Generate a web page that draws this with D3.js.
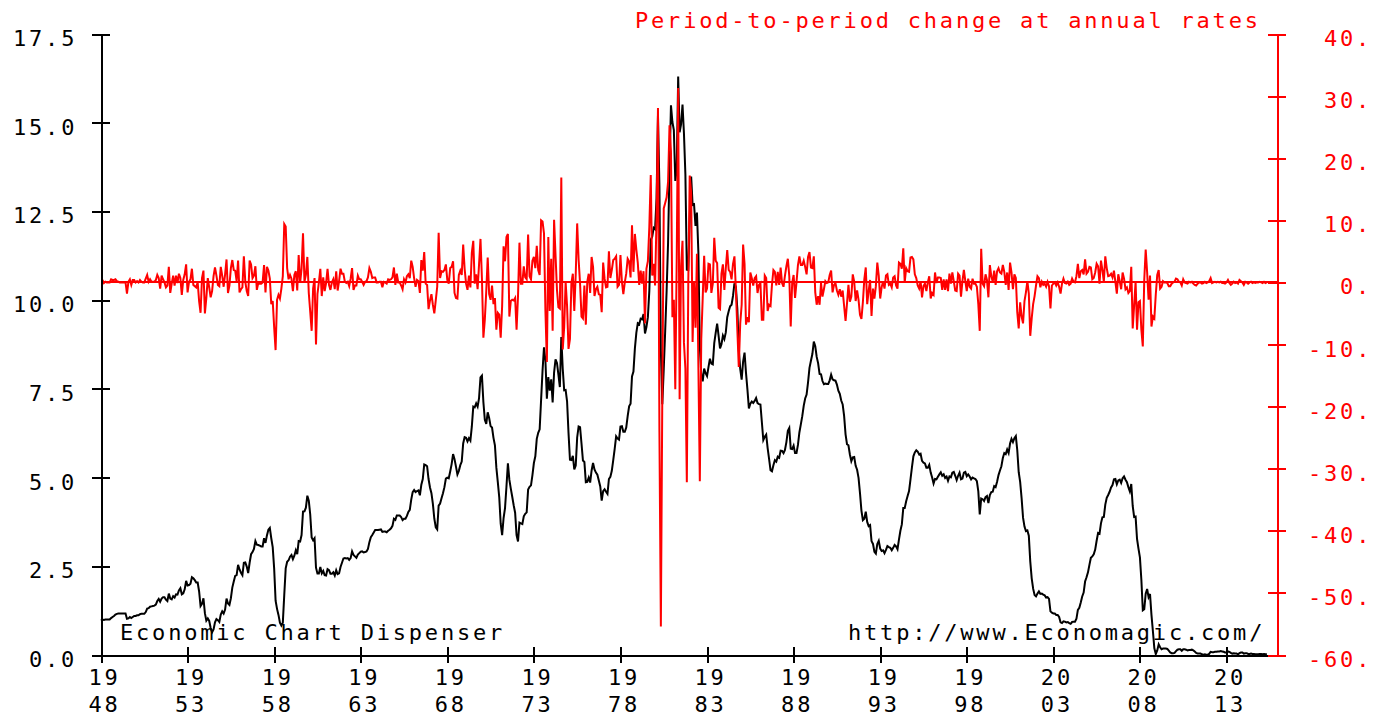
<!DOCTYPE html>
<html>
<head>
<meta charset="utf-8">
<script src="https://cdn.jsdelivr.net/npm/d3@7"></script>
<style>
  body { margin: 0; background: #fff; }
  svg text { font-family: 'DejaVu Sans Mono', monospace; font-size: 22px; letter-spacing: 2.8px; }
</style>
</head>
<body>
<script>
(function (d3) {
  'use strict';

  // monthly rate, Jan 1948 .. May 2015 (left axis, percent)
  const startYear = 1948;
  const rate = [
    0.97, 1.00, 0.99, 1.00, 1.00, 1.00, 1.00, 1.04, 1.07, 1.10, 1.14, 1.16,
    1.17, 1.17, 1.17, 1.17, 1.17, 1.17, 1.02, 1.03, 1.07, 1.04, 1.07, 1.10,
    1.10, 1.12, 1.12, 1.15, 1.16, 1.16, 1.16, 1.21, 1.31, 1.32, 1.36, 1.37,
    1.38, 1.39, 1.42, 1.52, 1.58, 1.50, 1.59, 1.63, 1.63, 1.56, 1.52, 1.73,
    1.59, 1.57, 1.66, 1.62, 1.71, 1.70, 1.82, 1.88, 1.71, 1.74, 1.85, 2.09,
    1.96, 1.97, 2.01, 2.19, 2.16, 2.11, 2.04, 2.04, 1.79, 1.38, 1.44, 1.60,
    1.18, 0.97, 1.03, 0.96, 0.76, 0.64, 0.72, 0.92, 1.01, 0.98, 0.93, 1.14,
    1.23, 1.17, 1.28, 1.59, 1.45, 1.41, 1.60, 1.90, 2.07, 2.23, 2.25, 2.54,
    2.41, 2.32, 2.25, 2.60, 2.61, 2.49, 2.31, 2.60, 2.84, 2.90, 2.99, 3.21,
    3.11, 3.10, 3.08, 3.06, 3.06, 3.29, 3.16, 3.37, 3.53, 3.58, 3.29, 3.04,
    2.44, 1.53, 1.30, 1.13, 0.91, 0.83, 0.91, 1.69, 2.44, 2.63, 2.67, 2.77,
    2.82, 2.70, 2.80, 2.95, 2.84, 3.21, 3.20, 3.38, 4.04, 4.05, 4.15, 4.49,
    4.35, 3.96, 3.31, 3.23, 3.29, 2.46, 2.30, 2.30, 2.48, 2.30, 2.37, 2.25,
    2.24, 2.42, 2.39, 2.29, 2.29, 2.33, 2.24, 2.39, 2.28, 2.30, 2.48, 2.60,
    2.72, 2.73, 2.72, 2.73, 2.68, 2.73, 2.92, 2.82, 2.78, 2.74, 2.83, 2.87,
    2.91, 2.92, 2.89, 2.90, 2.92, 2.99, 3.18, 3.32, 3.38, 3.45, 3.52, 3.52,
    3.52, 3.53, 3.54, 3.47, 3.48, 3.48, 3.46, 3.50, 3.53, 3.57, 3.64, 3.84,
    3.81, 3.93, 3.93, 3.93, 3.89, 3.80, 3.84, 3.84, 3.92, 4.03, 4.09, 4.38,
    4.59, 4.65, 4.59, 4.62, 4.64, 4.50, 4.80, 4.96, 5.37, 5.35, 5.32, 4.96,
    4.72, 4.56, 4.26, 3.84, 3.60, 3.54, 4.21, 4.27, 4.42, 4.56, 4.73, 4.97,
    5.00, 4.98, 5.17, 5.38, 5.66, 5.52, 5.31, 5.09, 5.19, 5.35, 5.45, 5.96,
    6.14, 6.12, 6.02, 6.11, 6.04, 6.44, 7.00, 6.98, 7.09, 7.00, 7.24, 7.82,
    7.87, 7.13, 6.63, 6.51, 6.84, 6.68, 6.45, 6.41, 6.12, 5.91, 5.28, 4.87,
    4.44, 3.70, 3.38, 3.86, 4.14, 4.75, 5.40, 4.94, 4.69, 4.46, 4.22, 4.01,
    3.38, 3.20, 3.73, 3.71, 3.69, 3.91, 3.98, 4.02, 4.66, 4.74, 4.78, 5.07,
    5.41, 5.60, 6.09, 6.26, 6.36, 7.19, 8.01, 8.67, 8.29, 7.22, 7.83, 7.45,
    7.77, 7.12, 7.96, 8.33, 8.23, 7.90, 7.55, 8.96, 8.06, 7.46, 7.47, 7.15,
    6.26, 5.50, 5.49, 5.61, 5.23, 5.34, 6.13, 6.44, 6.42, 5.96, 5.48, 5.44,
    4.87, 4.88, 5.00, 4.86, 5.20, 5.41, 5.23, 5.14, 5.08, 4.92, 4.75, 4.35,
    4.62, 4.67, 4.60, 4.54, 4.96, 5.02, 5.19, 5.49, 5.81, 6.16, 6.10, 6.07,
    6.44, 6.45, 6.29, 6.29, 6.41, 6.73, 7.01, 7.08, 7.85, 7.99, 8.64, 9.08,
    9.35, 9.32, 9.48, 9.46, 9.61, 9.06, 9.24, 9.52, 10.26, 11.70, 11.79, 12.04,
    12.00, 12.86, 15.20, 13.20, 8.58, 7.07, 8.06, 9.13, 10.27, 11.62, 13.73, 15.49,
    15.02, 14.79, 13.36, 13.69, 16.30, 14.73, 14.95, 15.51, 14.70, 13.54, 10.86, 10.85,
    12.28, 13.48, 12.68, 12.70, 12.09, 12.47, 11.35, 8.68, 7.92, 7.71, 8.07, 7.94,
    7.86, 8.11, 8.35, 8.21, 8.19, 8.79, 9.08, 9.34, 9.00, 8.64, 8.76, 9.00,
    8.90, 9.09, 9.52, 9.69, 9.83, 9.87, 10.12, 10.47, 10.37, 9.74, 8.61, 8.06,
    7.76, 8.27, 8.52, 7.95, 7.48, 6.95, 7.08, 7.14, 7.10, 7.16, 7.24, 7.10,
    7.07, 7.06, 6.56, 6.06, 6.15, 6.21, 5.83, 5.53, 5.21, 5.18, 5.35, 5.49,
    5.45, 5.59, 5.56, 5.76, 5.75, 5.69, 5.78, 6.00, 6.32, 6.40, 5.81, 5.80,
    5.90, 5.69, 5.69, 5.92, 6.27, 6.50, 6.73, 7.02, 7.23, 7.34, 7.68, 8.09,
    8.29, 8.48, 8.83, 8.70, 8.40, 8.22, 7.92, 7.91, 7.72, 7.63, 7.65, 7.64,
    7.64, 7.74, 7.90, 7.77, 7.74, 7.73, 7.62, 7.45, 7.36, 7.17, 7.06, 6.74,
    6.22, 5.94, 5.91, 5.65, 5.46, 5.57, 5.58, 5.33, 5.22, 4.99, 4.56, 4.07,
    3.80, 3.84, 4.04, 3.75, 3.63, 3.66, 3.21, 3.13, 2.91, 2.86, 3.13, 3.22,
    3.00, 2.93, 2.95, 2.87, 2.96, 3.07, 3.04, 3.02, 2.95, 3.02, 3.10, 3.06,
    2.98, 3.25, 3.50, 3.68, 4.14, 4.14, 4.33, 4.48, 4.62, 4.95, 5.29, 5.60,
    5.71, 5.77, 5.73, 5.65, 5.67, 5.47, 5.42, 5.40, 5.28, 5.28, 5.36, 5.14,
    5.00, 4.83, 4.96, 4.95, 5.02, 5.09, 5.15, 5.05, 5.09, 4.99, 5.03, 4.91,
    5.03, 5.01, 5.14, 5.16, 5.05, 4.93, 5.05, 5.14, 4.95, 4.97, 5.14, 5.16,
    5.04, 5.09, 5.03, 4.95, 5.00, 4.98, 4.96, 4.90, 4.61, 3.96, 4.41, 4.39,
    4.34, 4.45, 4.48, 4.28, 4.51, 4.59, 4.60, 4.76, 4.73, 4.88, 5.07, 5.20,
    5.32, 5.55, 5.69, 5.66, 5.79, 5.69, 5.96, 6.09, 6.00, 6.11, 6.17, 5.77,
    5.15, 4.88, 4.42, 3.87, 3.62, 3.49, 3.51, 3.36, 2.64, 2.16, 1.87, 1.69,
    1.65, 1.73, 1.79, 1.72, 1.73, 1.70, 1.68, 1.62, 1.63, 1.58, 1.23, 1.19,
    1.17, 1.17, 1.13, 1.13, 1.07, 0.92, 0.90, 0.95, 0.94, 0.92, 0.93, 0.90,
    0.88, 0.93, 0.94, 0.94, 1.02, 1.27, 1.33, 1.48, 1.65, 1.76, 2.07, 2.19,
    2.33, 2.54, 2.74, 2.78, 2.84, 2.97, 3.22, 3.44, 3.42, 3.71, 3.88, 3.89,
    4.24, 4.43, 4.51, 4.60, 4.72, 4.79, 4.95, 4.96, 4.81, 4.92, 4.94, 4.85,
    4.98, 5.03, 4.94, 4.87, 4.73, 4.61, 4.82, 4.20, 3.89, 3.90, 3.27, 3.00,
    2.75, 2.12, 1.26, 1.29, 1.73, 1.86, 1.63, 1.72, 1.13, 0.67, 0.19, 0.03,
    0.13, 0.30, 0.22, 0.16, 0.18, 0.18, 0.18, 0.17, 0.12, 0.07, 0.05, 0.05,
    0.06, 0.11, 0.15, 0.16, 0.16, 0.12, 0.16, 0.16, 0.15, 0.13, 0.14, 0.14,
    0.15, 0.13, 0.10, 0.06, 0.04, 0.04, 0.04, 0.02, 0.01, 0.02, 0.01, 0.01,
    0.03, 0.09, 0.08, 0.08, 0.09, 0.09, 0.10, 0.10, 0.11, 0.10, 0.09, 0.07,
    0.07, 0.10, 0.09, 0.06, 0.04, 0.05, 0.04, 0.04, 0.02, 0.05, 0.07, 0.07,
    0.04, 0.05, 0.05, 0.03, 0.03, 0.04, 0.03, 0.03, 0.02, 0.02, 0.02, 0.03,
    0.03, 0.02, 0.03, 0.02, 0.02
  ];

  // period-to-period change at annual rates, Feb 1948 .. May 2015 (right axis)
  const change = [
    0.4, -0.1, 0.1, 0, 0, 0, 0.5, 0.4, 0.4, 0.5, 0.2,
    0.1, 0, 0, 0, 0, 0, -1.8, 0.1, 0.5, -0.4, 0.4, 0.4,
    0, 0.2, 0, 0.4, 0.1, 0, 0, 0.6, 1.2, 0.1, 0.5, 0.1,
    0.1, 0.1, 0.4, 1.2, 0.7, -1.0, 1.1, 0.5, 0, -0.8, -0.5, 2.5,
    -1.7, -0.2, 1.1, -0.5, 1.1, -0.1, 1.4, 0.7, -2.0, 0.4, 1.3, 2.9,
    -1.6, 0.1, 0.5, 2.2, -0.4, -0.6, -0.8, 0, -3.0, -4.9, 0.7, 1.9,
    -5.0, -2.5, 0.7, -0.8, -2.4, -1.4, 1.0, 2.4, 1.1, -0.4, -0.6, 2.5,
    1.1, -0.7, 1.3, 3.7, -1.7, -0.5, 2.3, 3.6, 2.0, 1.9, 0.2, 3.5,
    -1.6, -1.1, -0.8, 4.2, 0.1, -1.4, -2.2, 3.5, 2.9, 0.7, 1.1, 2.6,
    -1.2, -0.1, -0.2, -0.2, 0, 2.8, -1.6, 2.5, 1.9, 0.6, -3.5, -3.0,
    -7.2, -10.9, -2.8, -2.0, -2.6, -1.0, 1.0, 9.4, 9.0, 2.3, 0.5, 1.2,
    0.6, -1.4, 1.2, 1.8, -1.3, 4.4, -0.1, 2.2, 7.9, 0.1, 1.2, 4.1,
    -1.7, -4.7, -7.8, -1.0, 0.7, -10.0, -1.9, 0, 2.2, -2.2, 0.8, -1.4,
    -0.1, 2.2, -0.4, -1.2, 0, 0.5, -1.1, 1.8, -1.3, 0.2, 2.2, 1.4,
    1.4, 0.1, -0.1, 0.1, -0.6, 0.6, 2.3, -1.2, -0.5, -0.5, 1.1, 0.5,
    0.5, 0.1, -0.4, 0.1, 0.2, 0.8, 2.3, 1.7, 0.7, 0.8, 0.8, 0,
    0, 0.1, 0.1, -0.8, 0.1, 0, -0.2, 0.5, 0.4, 0.5, 0.8, 2.4,
    -0.4, 1.4, 0, 0, -0.5, -1.1, 0.5, 0, 1.0, 1.3, 0.7, 3.5,
    2.5, 0.7, -0.7, 0.4, 0.2, -1.7, 3.6, 1.9, 4.9, -0.2, -0.4, -4.3,
    -2.9, -1.9, -3.6, -5.0, -2.9, -0.7, 8.0, 0.7, 1.8, 1.7, 2.0, 2.9,
    0.4, -0.2, 2.3, 2.5, 3.4, -1.7, -2.5, -2.6, 1.2, 1.9, 1.2, 6.1,
    2.2, -0.2, -1.2, 1.1, -0.8, 4.8, 6.7, -0.2, 1.3, -1.1, 2.9, 7.0,
    0.6, -8.9, -6.0, -1.4, 4.0, -1.9, -2.8, -0.5, -3.5, -2.5, -7.6, -4.9,
    -5.2, -8.9, -3.8, 5.8, 3.4, 7.3, 7.8, -5.5, -3.0, -2.8, -2.9, -2.5,
    -7.6, -2.2, 6.4, -0.2, -0.2, 2.6, 0.8, 0.5, 7.7, 1.0, 0.5, 3.5,
    4.1, 2.3, 5.9, 2.0, 1.2, 10.0, 9.8, 7.9, -4.6, -12.8, 7.3, -4.6,
    3.8, -7.8, 10.1, 4.4, -1.2, -4.0, -4.2, 16.9, -10.8, -7.2, 0.1, -3.8,
    -10.7, -9.1, -0.1, 1.4, -4.6, 1.3, 9.5, 3.7, -0.2, -5.5, -5.8, -0.5,
    -6.8, 0.1, 1.4, -1.7, 4.1, 2.5, -2.2, -1.1, -0.7, -1.9, -2.0, -4.8,
    3.2, 0.6, -0.8, -0.7, 5.0, 0.7, 2.0, 3.6, 3.8, 4.2, -0.7, -0.4,
    4.4, 0.1, -1.9, 0, 1.4, 3.8, 3.4, 0.8, 9.2, 1.7, 7.8, 5.3,
    3.2, -0.4, 1.9, -0.2, 1.8, -6.6, 2.2, 3.4, 8.9, 17.3, 1.1, 3.0,
    -0.5, 10.3, 28.1, -24.0, -55.4, -18.1, 11.9, 12.8, 13.7, 16.2, 25.3, 21.1,
    -5.6, -2.8, -17.2, 4.0, 31.3, -18.8, 2.6, 6.7, -9.7, -13.9, -32.2, -0.1,
    17.2, 14.4, -9.6, 0.2, -7.3, 4.6, -13.4, -32.0, -9.1, -2.5, 4.3, -1.6,
    -1.0, 3.0, 2.9, -1.7, -0.2, 7.2, 3.5, 3.1, -4.1, -4.3, 1.4, 2.9,
    -1.2, 2.3, 5.2, 2.0, 1.7, 0.5, 3.0, 4.2, -1.2, -7.6, -13.6, -6.6,
    -3.6, 6.1, 3.0, -6.8, -5.6, -6.4, 1.6, 0.7, -0.5, 0.7, 1.0, -1.7,
    -0.4, -0.1, -6.0, -6.0, 1.1, 0.7, -4.6, -3.6, -3.8, -0.4, 2.0, 1.7,
    -0.5, 1.7, -0.4, 2.4, -0.1, -0.7, 1.1, 2.6, 3.8, 1.0, -7.1, -0.1,
    1.2, -2.5, 0, 2.8, 4.2, 2.8, 2.8, 3.5, 2.5, 1.3, 4.1, 4.9,
    2.4, 2.3, 4.2, -1.6, -3.6, -2.2, -3.6, -0.1, -2.3, -1.1, 0.2, -0.1,
    0, 1.2, 1.9, -1.6, -0.4, -0.1, -1.3, -2.0, -1.1, -2.3, -1.3, -3.8,
    -6.2, -3.4, -0.4, -3.1, -2.3, 1.3, 0.1, -3.0, -1.3, -2.8, -5.2, -5.9,
    -3.2, 0.5, 2.4, -3.5, -1.4, 0.4, -5.4, -1.0, -2.6, -0.6, 3.2, 1.1,
    -2.6, -0.8, 0.2, -1.0, 1.1, 1.3, -0.4, -0.2, -0.8, 0.8, 1.0, -0.5,
    -1.0, 3.2, 3.0, 2.2, 5.5, 0, 2.3, 1.8, 1.7, 4.0, 4.1, 3.7,
    1.3, 0.7, -0.5, -1.0, 0.2, -2.4, -0.6, -0.2, -1.4, 0, 1.0, -2.6,
    -1.7, -2.0, 1.6, -0.1, 0.8, 0.8, 0.7, -1.2, 0.5, -1.2, 0.5, -1.4,
    1.4, -0.2, 1.6, 0.2, -1.3, -1.4, 1.4, 1.1, -2.3, 0.2, 2.0, 0.2,
    -1.4, 0.6, -0.7, -1.0, 0.6, -0.2, -0.2, -0.7, -3.5, -7.8, 5.4, -0.2,
    -0.6, 1.3, 0.4, -2.4, 2.8, 1.0, 0.1, 1.9, -0.4, 1.8, 2.3, 1.6,
    1.4, 2.8, 1.7, -0.4, 1.6, -1.2, 3.2, 1.6, -1.1, 1.3, 0.7, -4.8,
    -7.4, -3.2, -5.5, -6.6, -3.0, -1.6, 0.2, -1.8, -8.6, -5.8, -3.5, -2.2,
    -0.5, 1.0, 0.7, -0.8, 0.1, -0.4, -0.2, -0.7, 0.1, -0.6, -4.2, -0.5,
    -0.2, 0, -0.5, 0, -0.7, -1.8, -0.2, 0.6, -0.1, -0.2, 0.1, -0.4,
    -0.2, 0.6, 0.1, 0, 1.0, 3.0, 0.7, 1.8, 2.0, 1.3, 3.7, 1.4,
    1.7, 2.5, 2.4, 0.5, 0.7, 1.6, 3.0, 2.6, -0.2, 3.5, 2.0, 0.1,
    4.2, 2.3, 1.0, 1.1, 1.4, 0.8, 1.9, 0.1, -1.8, 1.3, 0.2, -1.1,
    1.6, 0.6, -1.1, -0.8, -1.7, -1.4, 2.5, -7.4, -3.7, 0.1, -7.6, -3.2,
    -3.0, -7.6, -10.3, 0.4, 5.3, 1.6, -2.8, 1.1, -7.1, -5.5, -5.8, -1.9,
    1.2, 2.0, -1.0, -0.7, 0.2, 0, 0, -0.1, -0.6, -0.6, -0.2, 0,
    0.1, 0.6, 0.5, 0.1, 0, -0.5, 0.5, 0, -0.1, -0.2, 0.1, 0,
    0.1, -0.2, -0.4, -0.5, -0.2, 0, 0, -0.2, -0.1, 0.1, -0.1, 0,
    0.2, 0.7, -0.1, 0, 0.1, 0, 0.1, 0, 0.1, -0.1, -0.1, -0.2,
    0, 0.4, -0.1, -0.4, -0.2, 0.1, -0.1, 0, -0.2, 0.4, 0.2, 0,
    -0.4, 0.1, 0, -0.2, 0, 0.1, -0.1, 0, -0.1, 0, 0, 0.1,
    0, -0.1, 0.1, -0.1, 0
  ];

  const yearTicks = [1948, 1953, 1958, 1963, 1968, 1973, 1978, 1983, 1988, 1993, 1998, 2003, 2008, 2013];
  const leftTicks = [0, 2.5, 5, 7.5, 10, 12.5, 15, 17.5];
  const rightTicks = [-60, -50, -40, -30, -20, -10, 0, 10, 20, 30, 40];
  const subtitle = 'Period-to-period change at annual rates';
  const creditLeft = 'Economic Chart Dispenser';
  const creditRight = 'http://www.Economagic.com/';

  const width = 1382;
  const height = 719;
  const charW = 16;
  const red = '#ff0000';

  const x = d3.scaleLinear().domain([1948, 2015 + 11 / 12]).range([101, 1277]);
  const yLeft = d3.scaleLinear().domain([0, 17.5]).range([655, 34]);
  const yRight = d3.scaleLinear().domain([-60, 40]).range([655, 34]);

  const svg = d3.select('body')
    .append('svg')
    .attr('width', width)
    .attr('height', height);

  // texts inside the plot
  svg.append('text').attr('x', 635).attr('y', 28).attr('fill', red).text(subtitle);
  svg.append('text').attr('x', 120).attr('y', 640).attr('fill', '#000').text(creditLeft);
  svg.append('text').attr('x', 848).attr('y', 640).attr('fill', '#000').text(creditRight);

  // zero line of the change series
  svg.append('line')
    .attr('x1', x.range()[0]).attr('x2', x.range()[1])
    .attr('y1', yRight(0)).attr('y2', yRight(0))
    .attr('stroke', red).attr('stroke-width', 2)
    .attr('shape-rendering', 'crispEdges');

  const rateLine = d3.line()
    .x((d, i) => x(startYear + i / 12))
    .y((d) => yLeft(d));

  const changeLine = d3.line()
    .x((d, i) => x(startYear + (i + 1) / 12))
    .y((d) => yRight(d));

  svg.append('path')
    .datum(rate)
    .attr('d', rateLine)
    .attr('fill', 'none')
    .attr('stroke', '#000')
    .attr('stroke-width', 2)
    .attr('stroke-linejoin', 'miter');

  svg.append('path')
    .datum(change)
    .attr('d', changeLine)
    .attr('fill', 'none')
    .attr('stroke', red)
    .attr('stroke-width', 2)
    .attr('stroke-linejoin', 'miter');

  // x axis
  const xAxis = svg.append('g')
    .attr('transform', `translate(0,${yLeft(0)})`)
    .attr('color', '#000')
    .call(d3.axisBottom(x).tickValues(yearTicks).tickSizeOuter(0).tickFormat(''));
  xAxis.selectAll('.tick line').attr('y1', -8).attr('y2', 8);
  xAxis.selectAll('.tick text')
    .attr('y', null).attr('dy', null)
    .attr('text-anchor', 'start')
    .attr('fill', '#000')
    .selectAll('tspan')
    .data((d) => [String(d).slice(0, 2), String(d).slice(2)])
    .join('tspan')
    .attr('x', -13)
    .attr('y', (d, i) => 30 + i * 27)
    .text((d) => d);

  // left axis
  const fmtLeft = d3.format('.1f');
  const leftAxis = svg.append('g')
    .attr('transform', `translate(${x.range()[0]},0)`)
    .attr('color', '#000')
    .call(d3.axisLeft(yLeft).tickValues(leftTicks).tickFormat(fmtLeft).tickSizeOuter(0));
  leftAxis.selectAll('.tick line').attr('x1', -9).attr('x2', 9);
  leftAxis.selectAll('.tick text')
    .attr('text-anchor', 'start')
    .attr('x', (d) => 13 - x.range()[0] + (4 - fmtLeft(d).length) * charW)
    .attr('dy', 11.5);

  // right axis
  const fmtRight = (d) => `${d}.`;
  const rightAxis = svg.append('g')
    .attr('transform', `translate(${x.range()[1]},0)`)
    .attr('color', red)
    .call(d3.axisRight(yRight).tickValues(rightTicks).tickFormat(fmtRight).tickSizeOuter(0));
  rightAxis.selectAll('.tick line').attr('x1', -9).attr('x2', 9);
  rightAxis.selectAll('.tick text')
    .attr('text-anchor', 'start')
    .attr('x', (d) => 31 + (4 - fmtRight(d).length) * charW)
    .attr('dy', 11.5);

  svg.selectAll('.domain, .tick line')
    .attr('stroke-width', 2)
    .attr('shape-rendering', 'crispEdges');

}(d3));
</script>
</body>
</html>
